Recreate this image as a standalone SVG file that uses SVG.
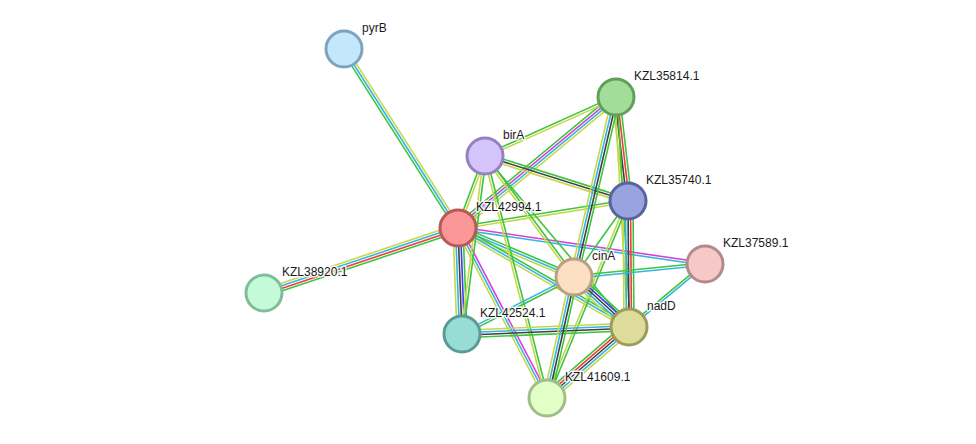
<svg xmlns="http://www.w3.org/2000/svg" width="976" height="444" viewBox="0 0 976 444">
<style>
.e line{stroke-width:1.6;vector-effect:non-scaling-stroke;fill:none}
.g{stroke:#3ec43e}.r{stroke:#f23c3c}.b{stroke:#3c3cf0}.k{stroke:#404040}.m{stroke:#d83ed8}.c{stroke:#35b5e0}.y{stroke:#c5d84a}
.n circle{stroke-width:3}
.n text{font-family:"Liberation Sans",Arial,sans-serif;font-size:12px;fill:#1a1a1a;stroke:#fff;stroke-width:3;stroke-opacity:0.85;paint-order:stroke;stroke-linejoin:round}
</style>
<rect width="976" height="444" fill="#fff"/>
<g id="connectors" class="e">
<!-- pyrB - KZL42994.1 -->
<g transform="matrix(114 179 -0.8435 0.5372 344 49)"><line x2="1" y1="-2.5" y2="-2.5" class="y"/><line x2="1" class="c"/><line x2="1" y1="2.5" y2="2.5" class="g"/></g>
<!-- KZL38920.1 - KZL42994.1 -->
<g transform="matrix(194 -65 0.3177 0.9482 264 293)"><line x2="1" y1="-3.75" y2="-3.75" class="y"/><line x2="1" y1="-1.25" y2="-1.25" class="c"/><line x2="1" y1="1.25" y2="1.25" class="r"/><line x2="1" y1="3.75" y2="3.75" class="g"/></g>
<!-- KZL42994.1 - birA -->
<g transform="matrix(27 -72 0.9363 0.3511 458 228)"><line x2="1" y1="-1.25" y2="-1.25" class="g"/><line x2="1" y1="1.25" y2="1.25" class="y"/></g>
<!-- KZL42994.1 - KZL35814.1 -->
<g transform="matrix(158 -131 0.6384 0.7700 458 228)"><line x2="1" y1="-3.75" y2="-3.75" class="g"/><line x2="1" y1="-1.25" y2="-1.25" class="m"/><line x2="1" y1="1.25" y2="1.25" class="c"/><line x2="1" y1="3.75" y2="3.75" class="y"/></g>
<!-- KZL42994.1 - KZL35740.1 -->
<g transform="matrix(170 -27 0.1569 0.9878 458 228)"><line x2="1" y1="-1.25" y2="-1.25" class="g"/><line x2="1" y1="1.25" y2="1.25" class="y"/></g>
<!-- KZL42994.1 - KZL37589.1 -->
<g transform="matrix(247 36 -0.1442 0.9896 458 228)"><line x2="1" y1="-1.25" y2="-1.25" class="m"/><line x2="1" y1="1.25" y2="1.25" class="c"/></g>
<!-- KZL42994.1 - cinA -->
<g transform="matrix(116 49 -0.3892 0.9214 458 228)"><line x2="1" y1="-2.5" y2="-2.5" class="g"/><line x2="1" class="c"/><line x2="1" y1="2.5" y2="2.5" class="y"/></g>
<!-- KZL42994.1 - nadD -->
<g transform="matrix(171 99 -0.5010 0.8654 458 228)"><line x2="1" y1="-2.5" y2="-2.5" class="g"/><line x2="1" class="c"/><line x2="1" y1="2.5" y2="2.5" class="y"/></g>
<!-- KZL42994.1 - KZL42524.1 -->
<g transform="matrix(4 106 -0.9991 0.0377 458 228)"><line x2="1" y1="-5" y2="-5" class="g"/><line x2="1" y1="-2.5" y2="-2.5" class="b"/><line x2="1" class="k"/><line x2="1" y1="2.5" y2="2.5" class="c"/><line x2="1" y1="5" y2="5" class="y"/></g>
<!-- KZL42994.1 - KZL41609.1 -->
<g transform="matrix(89 170 -0.8859 0.4638 458 228)"><line x2="1" y1="-2.5" y2="-2.5" class="m"/><line x2="1" class="c"/><line x2="1" y1="2.5" y2="2.5" class="y"/></g>
<!-- birA - KZL35814.1 -->
<g transform="matrix(131 -59 0.4106 0.9116 485 156)"><line x2="1" y1="-1.25" y2="-1.25" class="g"/><line x2="1" y1="1.25" y2="1.25" class="y"/></g>
<!-- birA - KZL35740.1 -->
<g transform="matrix(143 45 -0.3002 0.9540 485 156)"><line x2="1" y1="-2.5" y2="-2.5" class="g"/><line x2="1" class="k"/><line x2="1" y1="2.5" y2="2.5" class="y"/></g>
<!-- birA - cinA -->
<g transform="matrix(89 121 -0.8056 0.5925 485 156)"><line x2="1" y1="-1.25" y2="-1.25" class="g"/><line x2="1" y1="1.25" y2="1.25" class="y"/></g>
<!-- birA - nadD -->
<g transform="matrix(144 171 -0.7648 0.6440 485 156)"><line x2="1" class="g"/></g>
<!-- birA - KZL41609.1 -->
<g transform="matrix(62 242 -0.9688 0.2482 485 156)"><line x2="1" y1="-1.25" y2="-1.25" class="g"/><line x2="1" y1="1.25" y2="1.25" class="y"/></g>
<!-- birA - KZL42524.1 -->
<g transform="matrix(-23 178 -0.9916 -0.1281 485 156)"><line x2="1" y1="-1.25" y2="-1.25" class="g"/><line x2="1" y1="1.25" y2="1.25" class="y"/></g>
<!-- KZL35814.1 - KZL35740.1 -->
<g transform="matrix(12 104 -0.9933 0.1146 616 97)"><line x2="1" y1="-3.75" y2="-3.75" class="g"/><line x2="1" y1="-1.25" y2="-1.25" class="r"/><line x2="1" y1="1.25" y2="1.25" class="k"/><line x2="1" y1="3.75" y2="3.75" class="y"/></g>
<!-- KZL35814.1 - nadD -->
<g transform="matrix(13 230 -0.9983 0.0564 616 97)"><line x2="1" y1="-1.25" y2="-1.25" class="g"/><line x2="1" y1="1.25" y2="1.25" class="y"/></g>
<!-- KZL35814.1 - cinA -->
<g transform="matrix(-42 180 -0.9740 -0.2273 616 97)"><line x2="1" y1="-3.75" y2="-3.75" class="g"/><line x2="1" y1="-1.25" y2="-1.25" class="k"/><line x2="1" y1="1.25" y2="1.25" class="c"/><line x2="1" y1="3.75" y2="3.75" class="y"/></g>
<!-- KZL35740.1 - nadD -->
<g transform="matrix(1 126 -1 0.0079 628 201)"><line x2="1" y1="-5" y2="-5" class="g"/><line x2="1" y1="-2.5" y2="-2.5" class="r"/><line x2="1" class="k"/><line x2="1" y1="2.5" y2="2.5" class="c"/><line x2="1" y1="5" y2="5" class="y"/></g>
<!-- KZL35740.1 - cinA -->
<g transform="matrix(-54 76 -0.8155 -0.5794 628 201)"><line x2="1" class="g"/></g>
<!-- KZL35740.1 - KZL41609.1 -->
<g transform="matrix(-81 197 -0.9249 -0.3803 628 201)"><line x2="1" y1="-1.25" y2="-1.25" class="g"/><line x2="1" y1="1.25" y2="1.25" class="y"/></g>
<!-- cinA - KZL37589.1 -->
<g transform="matrix(131 -13 0.0988 0.9954 574 277)"><line x2="1" y1="-1.25" y2="-1.25" class="g"/><line x2="1" y1="1.25" y2="1.25" class="c"/></g>
<!-- nadD - KZL37589.1 -->
<g transform="matrix(76 -63 0.6383 0.7700 629 327)"><line x2="1" y1="-1.25" y2="-1.25" class="g"/><line x2="1" y1="1.25" y2="1.25" class="c"/></g>
<!-- cinA - nadD -->
<g transform="matrix(55 50 -0.6729 0.7402 574 277)"><line x2="1" y1="-5" y2="-5" class="g"/><line x2="1" y1="-2.5" y2="-2.5" class="b"/><line x2="1" class="k"/><line x2="1" y1="2.5" y2="2.5" class="c"/><line x2="1" y1="5" y2="5" class="y"/></g>
<!-- cinA - KZL42524.1 -->
<g transform="matrix(-112 57 -0.4535 -0.8910 574 277)"><line x2="1" y1="-1.25" y2="-1.25" class="g"/><line x2="1" y1="1.25" y2="1.25" class="c"/></g>
<!-- KZL42524.1 - nadD -->
<g transform="matrix(167 -7 0.0419 0.9994 462 334)"><line x2="1" y1="-3.75" y2="-3.75" class="y"/><line x2="1" y1="-1.25" y2="-1.25" class="c"/><line x2="1" y1="1.25" y2="1.25" class="k"/><line x2="1" y1="3.75" y2="3.75" class="g"/></g>
<!-- nadD - KZL41609.1 -->
<g transform="matrix(-82 71 -0.6544 -0.7558 629 327)"><line x2="1" y1="-5" y2="-5" class="y"/><line x2="1" y1="-2.5" y2="-2.5" class="c"/><line x2="1" class="k"/><line x2="1" y1="2.5" y2="2.5" class="r"/><line x2="1" y1="5" y2="5" class="g"/></g>
<!-- cinA - KZL41609.1 -->
<g transform="matrix(-27 121 -0.9758 -0.2177 574 277)"><line x2="1" y1="-3.75" y2="-3.75" class="g"/><line x2="1" y1="-1.25" y2="-1.25" class="k"/><line x2="1" y1="1.25" y2="1.25" class="c"/><line x2="1" y1="3.75" y2="3.75" class="y"/></g>
</g>
<g id="pyrB" class="n"><circle cx="344" cy="49" r="18" fill="#c3e7fb" stroke="#7ea3bf"/><text x="362" y="32">pyrB</text></g>
<g id="KZL35814.1" class="n"><circle cx="616" cy="97" r="18" fill="#a2de98" stroke="#629f58"/><text x="634" y="80">KZL35814.1</text></g>
<g id="birA" class="n"><circle cx="485" cy="156" r="18" fill="#d4c4fb" stroke="#9580c0"/><text x="503" y="139">birA</text></g>
<g id="KZL35740.1" class="n"><circle cx="628" cy="201" r="18" fill="#98a3e0" stroke="#58639f"/><text x="646" y="184">KZL35740.1</text></g>
<g id="KZL42994.1" class="n"><circle cx="458" cy="228" r="18" fill="#fb9797" stroke="#b95858"/><text x="476" y="211">KZL42994.1</text></g>
<g id="KZL37589.1" class="n"><circle cx="705" cy="264" r="18" fill="#f7c8c8" stroke="#b58989"/><text x="723" y="247">KZL37589.1</text></g>
<g id="cinA" class="n"><circle cx="574" cy="277" r="18" fill="#fde0c3" stroke="#bb9f81"/><text x="592" y="260">cinA</text></g>
<g id="KZL38920.1" class="n"><circle cx="264" cy="293" r="18" fill="#c3fad8" stroke="#80bc98"/><text x="282" y="276">KZL38920.1</text></g>
<g id="KZL42524.1" class="n"><circle cx="462" cy="334" r="18" fill="#98ddd5" stroke="#5a9c95"/><text x="480" y="317">KZL42524.1</text></g>
<g id="nadD" class="n"><circle cx="629" cy="327" r="18" fill="#dedc9b" stroke="#9d9b5b"/><text x="647" y="310">nadD</text></g>
<g id="KZL41609.1" class="n"><circle cx="547" cy="398" r="18" fill="#e2ffc8" stroke="#a2bd88"/><text x="565" y="381">KZL41609.1</text></g>
</svg>
